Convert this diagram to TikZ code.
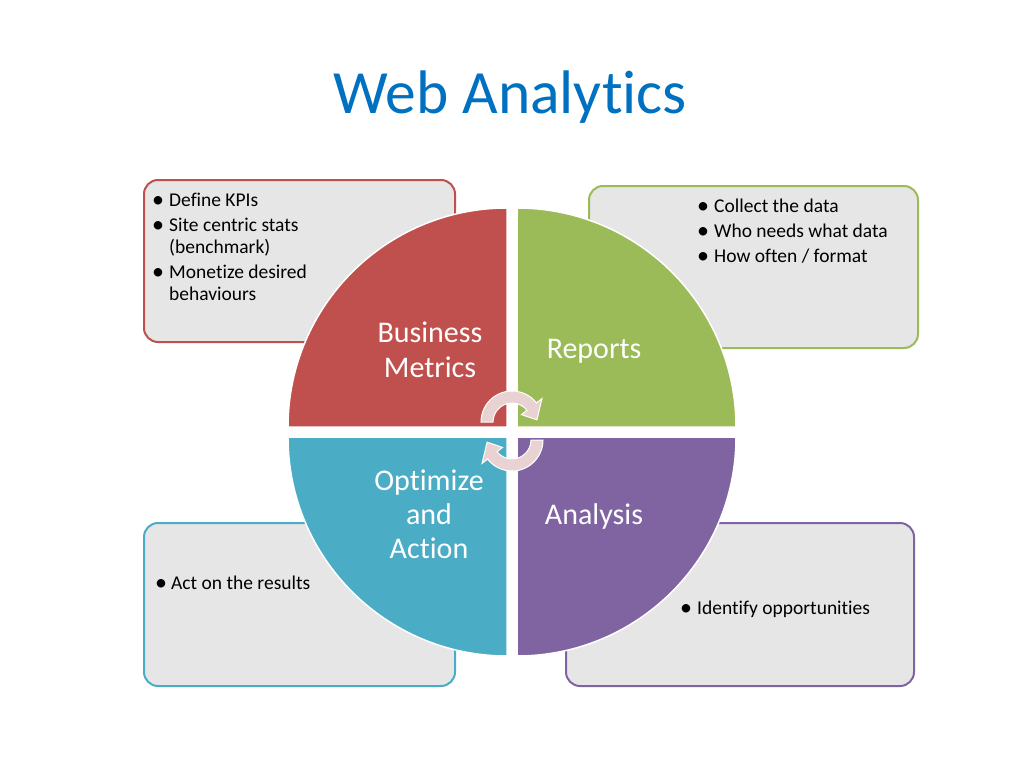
\documentclass[tikz,border=0pt]{standalone}
\usepackage{fontspec}
\setmainfont{Carlito}[RawFeature={-liga;-clig;-calt;-dlig}]
\usetikzlibrary{calc}
\newcommand{\nlg}{\kern0pt }
\definecolor{cRed}{RGB}{192,80,77}
\definecolor{cGreen}{RGB}{155,187,89}
\definecolor{cBlue}{RGB}{75,172,198}
\definecolor{cPurple}{RGB}{128,100,162}
\definecolor{cBox}{RGB}{230,230,230}
\definecolor{cTitle}{RGB}{0,112,192}
\definecolor{cArrow}{RGB}{232,210,210}
\begin{document}
\begin{tikzpicture}[x=1pt,y=-1pt,
  boxst/.style={draw=#1,fill=cBox,line width=2pt,rounded corners=14pt},
  quadst/.style={fill=#1,draw=white,line width=1.5pt},
  arrowst/.style={fill=cArrow,draw=white,line width=1pt},
  lbl/.style={text=white,font=\fontsize{30}{35}\selectfont,inner sep=0pt,anchor=base},
  txt/.style={font=\fontsize{19.5}{23}\selectfont,inner sep=0pt,anchor=base west,text=black},
  bul/.style={font=\fontsize{24}{26}\selectfont,inner sep=0pt,anchor=base,text=black}]
\useasboundingbox (0,0) rectangle (1024,768);
\fill[white] (0,0) rectangle (1024,768);

% title
\node[font=\fontsize{61.5}{70}\selectfont,text=cTitle,anchor=base,inner sep=0pt] (title) at (510,113) {Web Analyt\nlg ics};

% boxes
\draw[boxst=cRed]    (144,180) rectangle (455,342);
\draw[boxst=cGreen]  (589,186) rectangle (918,348);
\draw[boxst=cBlue]   (144,523) rectangle (455,686);
\draw[boxst=cPurple] (566,523) rectangle (914,686);

% box texts
\node[bul] (b1) at (158,207.5) {•};
\node[txt] (t1) at (169,206) {Def\nlg ine KPIs};
\node[bul] (b2) at (158,232.5) {•};
\node[txt] (t2) at (169,231) {Site centric stats};
\node[txt] (t3) at (169,253) {(benchmark)};
\node[bul] (b4) at (158,279.5) {•};
\node[txt] (t4) at (169,278) {Monetize desired};
\node[txt] (t5) at (169,300) {behaviours};

\node[bul] (b6) at (703,213.5) {•};
\node[txt] (t6) at (714,212) {Collect the data};
\node[bul] (b7) at (703,238.5) {•};
\node[txt] (t7) at (714,237) {Who needs what data};
\node[bul] (b8) at (703,263.5) {•};
\node[txt] (t8) at (714,262) {How often / format};

\node[bul] (b9) at (161,590.5) {•};
\node[txt] (t9) at (171,589) {Act on the results};

\node[bul] (b10) at (686,615.5) {•};
\node[txt] (t10) at (697,614) {Ident\nlg ify opportunit\nlg ies};

% quadrants
\path[quadst=cRed]    (507,427) -- (288,427) arc[start angle=180,end angle=270,radius=219] -- cycle;
\path[quadst=cGreen]  (517,427) -- (517,208) arc[start angle=270,end angle=360,radius=219] -- cycle;
\path[quadst=cBlue]   (507,437) -- (288,437) arc[start angle=180,end angle=90,radius=219] -- cycle;
\path[quadst=cPurple] (517,437) -- (736,437) arc[start angle=0,end angle=90,radius=219] -- cycle;

% quadrant labels
\node[lbl] (q1a) at (430,342) {Business};
\node[lbl] (q1b) at (430,377) {Metrics};
\node[lbl] (q2)  at (594,358) {Reports};
\node[lbl] (q3a) at (429,490) {Opt\nlg imize};
\node[lbl] (q3b) at (429,524) {and};
\node[lbl] (q3c) at (429,558) {Act\nlg ion};
\node[lbl] (q4)  at (594,524) {Analysis};

% circular arrows
\coordinate (ca) at (512,422);
\coordinate (cb) at (512,440);
\path[arrowst] ($(ca)+(180:31)$) arc[start angle=180,end angle=322,radius=31]
  -- ($(ca)+(322:38)$) -- ($(ca)+(355:25)$) -- ($(ca)+(322:12)$)
  -- ($(ca)+(322:19)$) arc[start angle=322,end angle=180,radius=19] -- cycle;
\path[arrowst] ($(cb)+(0:31)$) arc[start angle=0,end angle=142,radius=31]
  -- ($(cb)+(142:38)$) -- ($(cb)+(175:25)$) -- ($(cb)+(142:12)$)
  -- ($(cb)+(142:19)$) arc[start angle=142,end angle=0,radius=19] -- cycle;
\end{tikzpicture}
\end{document}
